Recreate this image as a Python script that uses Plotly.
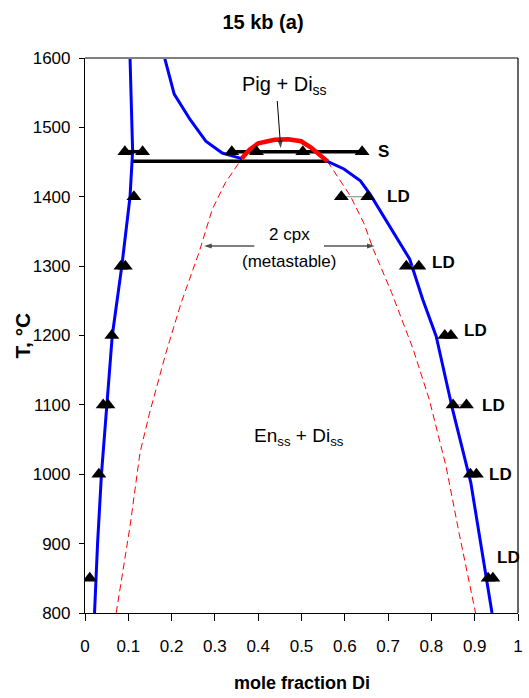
import plotly.graph_objects as go

# ---------------- data ----------------
# Enss limb (left blue curve)
en_x = [0.022, 0.029, 0.038, 0.051, 0.063, 0.085, 0.095, 0.104, 0.110, 0.108, 0.104]
en_T = [800, 900, 1000, 1100, 1200, 1300, 1350, 1400, 1466, 1512, 1600]

# Pig / Diss boundary (right blue curve)
di_x = [0.184, 0.206, 0.243, 0.279, 0.317, 0.362, None,
        0.56, 0.598, 0.636, 0.659, 0.75, 0.78, 0.811, 0.849, 0.891, 0.94]
di_T = [1600, 1548, 1511, 1480, 1463, 1455, None,
        1451, 1440, 1423, 1403, 1310, 1252, 1199, 1093, 988, 800]

# Pigeonite field top (thick red)
pig_x = [0.362, 0.38, 0.40, 0.438, 0.469, 0.499, 0.522, 0.56]
pig_T = [1455, 1468, 1477, 1482, 1483, 1480, 1471, 1451]

# Metastable two-pyroxene solvus (red dashed)
ms_x = [0.072, 0.104, 0.127, 0.149, 0.187, 0.222, 0.263, 0.294, 0.324, 0.362, None,
        0.56, 0.583, 0.613, 0.644, 0.666, 0.708, 0.758, 0.795, 0.834, 0.864, 0.902]
ms_T = [800, 925, 1031, 1088, 1175, 1247, 1319, 1382, 1420, 1455, None,
        1451, 1430, 1401, 1362, 1324, 1262, 1180, 1108, 1011, 915, 800]

# Experimental data (triangles)
exp_x = [0.011, 0.032, 0.042, 0.053, 0.062, 0.083, 0.093, 0.113, 0.092, 0.133,
         0.339, 0.396, 0.503, 0.640, 0.592, 0.653, 0.742, 0.771, 0.831, 0.845,
         0.850, 0.881, 0.890, 0.904, 0.931, 0.942]
exp_T = [850, 1000, 1100, 1100, 1200, 1300, 1300, 1400, 1465, 1465,
         1465, 1465, 1465, 1465, 1400, 1400, 1300, 1300, 1200, 1200,
         1100, 1100, 1000, 1000, 850, 850]

# Tie lines
tie_black_x = [0.092, 0.133, None, 0.339, 0.640, None, 0.111, 0.56]
tie_black_T = [1465, 1465, None, 1465, 1465, None, 1451, 1451]
tie_gray_x = [0.592, 0.653, None, 0.742, 0.771, None, 0.850, 0.881]
tie_gray_T = [1400, 1400, None, 1300, 1300, None, 1100, 1100]

# Labels
ld_x = [0.724, 0.829, 0.902, 0.943, 0.959, 0.977]
ld_T = [1400, 1305, 1207, 1099, 1000, 880]

# Pointer arrows (tail -> head)
arrows = [((0.444, 1538), (0.452, 1470)),
          ((0.391, 1329), (0.275, 1329)),
          ((0.552, 1329), (0.669, 1329))]

x_ticks = [0, 0.1, 0.2, 0.3, 0.4, 0.5, 0.6, 0.7, 0.8, 0.9, 1]
x_ticktext = ["0", "0.1", "0.2", "0.3", "0.4", "0.5", "0.6", "0.7", "0.8", "0.9", "1"]
y_ticks = [800, 900, 1000, 1100, 1200, 1300, 1400, 1500, 1600]

FONT = "Liberation Sans, Arial, sans-serif"

fig = go.Figure()

fig.add_trace(go.Scatter(x=ms_x, y=ms_T, mode="lines",
                         line=dict(color="#FF0000", width=1, dash="7px,4px"),
                         hoverinfo="skip"))
fig.add_trace(go.Scatter(x=en_x, y=en_T, mode="lines",
                         line=dict(color="#0000FF", width=3), hoverinfo="skip"))
fig.add_trace(go.Scatter(x=di_x, y=di_T, mode="lines",
                         line=dict(color="#0000FF", width=3), hoverinfo="skip"))
fig.add_trace(go.Scatter(x=tie_gray_x, y=tie_gray_T, mode="lines",
                         line=dict(color="#808080", width=1), hoverinfo="skip"))
fig.add_trace(go.Scatter(x=tie_black_x, y=tie_black_T, mode="lines",
                         line=dict(color="#000000", width=3.5), hoverinfo="skip"))
fig.add_trace(go.Scatter(x=pig_x, y=pig_T, mode="lines",
                         line=dict(color="#FF0000", width=4.5),
                         hoverinfo="skip"))
fig.add_trace(go.Scatter(x=exp_x, y=exp_T, mode="markers",
                         marker=dict(symbol="triangle-up", size=13,
                                     color="#000000", line=dict(width=0)),
                         hoverinfo="skip"))
for (tx, ty), (hx, hy) in arrows:
    fig.add_trace(go.Scatter(x=[tx, hx], y=[ty, hy], mode="lines+markers",
                             line=dict(color="#000000", width=1),
                             marker=dict(symbol=["circle", "arrow"], size=[0, 8],
                                         angleref="previous", color="#000000",
                                         line=dict(width=0)),
                             hoverinfo="skip"))

annots = []
for lx, lt in zip(ld_x, ld_T):
    annots.append(dict(x=lx, y=lt, text="<b>LD</b>", showarrow=False,
                       font=dict(family=FONT, size=17, color="#000"),
                       xanchor="center", yanchor="middle"))
annots.append(dict(x=0.689, y=1465, text="<b>S</b>", showarrow=False,
                   font=dict(family=FONT, size=17, color="#000"),
                   xanchor="center", yanchor="middle"))
annots.append(dict(x=0.461, y=1560, text="Pig + Di<sub>ss</sub>", showarrow=False,
                   font=dict(family=FONT, size=20, color="#000"),
                   xanchor="center", yanchor="middle"))
annots.append(dict(x=0.473, y=1346, text="2 cpx", showarrow=False,
                   font=dict(family=FONT, size=17, color="#000"),
                   xanchor="center", yanchor="middle"))
annots.append(dict(x=0.471, y=1306, text="(metastable)", showarrow=False,
                   font=dict(family=FONT, size=17, color="#000"),
                   xanchor="center", yanchor="middle"))
annots.append(dict(x=0.495, y=1053, text="En<sub>ss</sub> + Di<sub>ss</sub>", showarrow=False,
                   font=dict(family=FONT, size=19, color="#000"),
                   xanchor="center", yanchor="middle"))
# axis titles
annots.append(dict(x=0.5, y=0, xref="paper", yref="paper", text="<b>mole fraction Di</b>",
                   showarrow=False, yshift=-69.5, xanchor="center", yanchor="middle",
                   font=dict(family=FONT, size=18, color="#000")))
annots.append(dict(x=0, y=0.5, xref="paper", yref="paper", text="<b>T, °C</b>",
                   showarrow=False, xshift=-63, textangle=-90, xanchor="center", yanchor="middle",
                   font=dict(family=FONT, size=21, color="#000")))

shapes = [
    dict(type="line", xref="paper", yref="paper", x0=0, x1=1, y0=1, y1=1,
         line=dict(color="#808080", width=2)),
    dict(type="line", xref="paper", yref="paper", x0=1, x1=1, y0=0, y1=1,
         line=dict(color="#000000", width=1.2)),
]

fig.update_layout(
    width=529, height=698,
    margin=dict(l=85, r=6, t=58, b=85),
    paper_bgcolor="white", plot_bgcolor="white",
    showlegend=False,
    title=dict(text="<b>15 kb (a)</b>", x=263 / 529, xref="container", xanchor="center",
               y=1 - 21.7 / 698, yref="container", yanchor="middle",
               font=dict(family=FONT, size=20, color="#000")),
    annotations=annots,
    shapes=shapes,
    xaxis=dict(range=[0, 1], tickvals=x_ticks, ticktext=x_ticktext,
               showgrid=False, zeroline=False, showline=True, linecolor="#000",
               linewidth=1.2, ticks="outside", ticklen=7, tickcolor="#000",
               tickfont=dict(family=FONT, size=17, color="#000"),
               ticklabelstandoff=10),
    yaxis=dict(range=[800, 1600], tickvals=y_ticks,
               showgrid=False, zeroline=False, showline=True, linecolor="#000",
               linewidth=1.2, ticks="outside", ticklen=5, tickcolor="#000",
               tickfont=dict(family=FONT, size=17, color="#000"),
               ticklabelstandoff=5),
)

fig.write_html("out.html")
